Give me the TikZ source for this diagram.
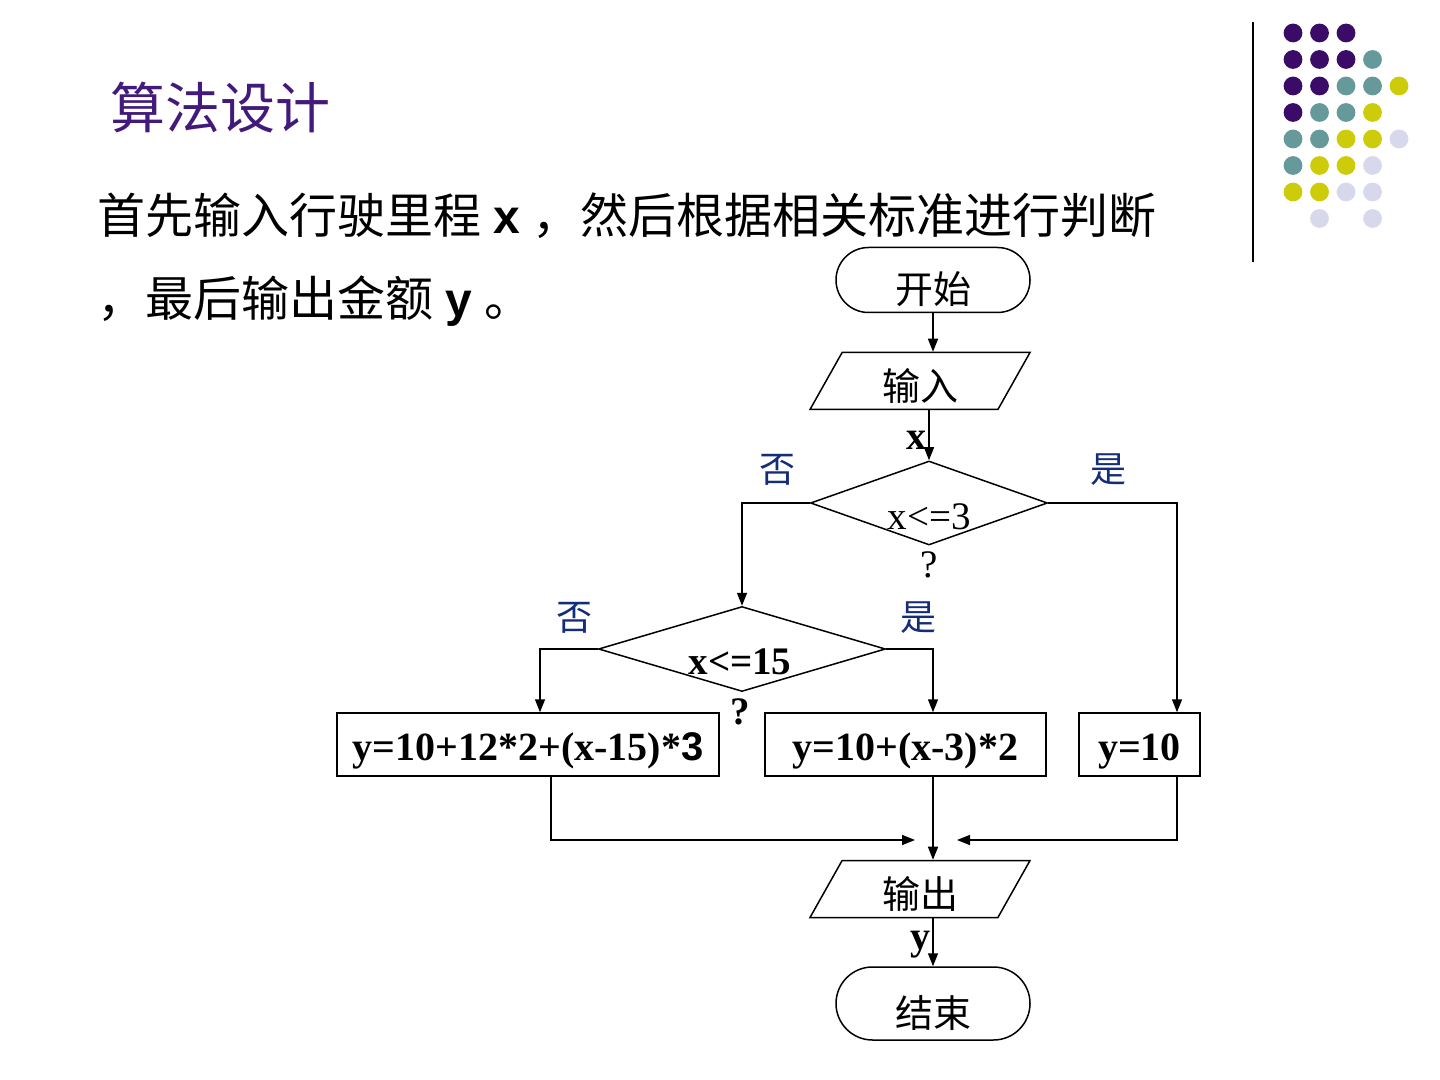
\documentclass[tikz,border=0pt]{standalone}
\usepackage{fontspec}
\setmainfont{Liberation Serif}
\setsansfont{Liberation Sans}
\newfontfamily\cjk{Noto Sans CJK SC}
\usetikzlibrary{shapes.geometric,shapes.misc,arrows.meta}

\definecolor{dotpurple}{RGB}{58,12,104}
\definecolor{dotteal}{RGB}{102,153,153}
\definecolor{dotyellow}{RGB}{204,204,10}
\definecolor{dotlilac}{RGB}{216,216,236}
\definecolor{titlepurple}{RGB}{66,26,124}
\definecolor{answerblue}{RGB}{20,45,120}

\begin{document}
\begin{tikzpicture}[x=0.5pt,y=-0.5pt,line width=0.75pt,
    >={Triangle[length=6.5pt,width=5pt]},
    term/.style={draw,rounded rectangle,minimum width=97pt,inner sep=0pt,text height=26pt,text depth=2.3pt,font=\cjk\fontsize{19}{22}\selectfont},
    inout/.style={draw,trapezium,trapezium left angle=56,trapezium right angle=124,trapezium stretches body,minimum width=110pt,minimum height=28.5pt,inner sep=0pt,text height=21.5pt,text depth=2.3pt,font=\cjk\fontsize{19}{22}\selectfont},
    test/.style={draw,diamond,inner sep=0pt},
    calc/.style={draw,rectangle,minimum height=31.5pt,inner sep=0pt,text height=20pt,text depth=4.5pt,font=\bfseries\fontsize{20}{24}\selectfont},
    answer/.style={text=answerblue,font=\cjk\fontsize{18}{21}\selectfont}]

          \useasboundingbox (0,0) rectangle (1440,1080);

          % slide decoration
          \draw[line width=0.8pt] (1253,22) -- (1253,262);
          \foreach \clist [count=\r] in {{dotpurple,dotpurple,dotpurple},
              {dotpurple,dotpurple,dotpurple,dotteal},
              {dotpurple,dotpurple,dotteal,dotteal,dotyellow},
              {dotpurple,dotteal,dotteal,dotyellow},
              {dotteal,dotteal,dotyellow,dotyellow,dotlilac},
              {dotteal,dotyellow,dotyellow,dotlilac},
              {dotyellow,dotyellow,dotlilac,dotlilac},
              {none,dotlilac,none,dotlilac}}
            \foreach \cc [count=\c] in \clist
              \path[fill=\cc] (1266.5+26.5*\c,6.5+26.5*\r) circle[radius=4.7pt];

          % heading and text
          \begin{scope}[every node/.style={anchor=west,inner sep=0pt}]
            \node (title) at (110,108) {\cjk\fontsize{27.5}{30}\selectfont\color{titlepurple}算法设计};
            \node (line1) at (97,216) {\fontsize{24}{28}\selectfont{\cjk 首先输入行驶里程} {\sffamily\bfseries x} {\cjk ，然后根据相关标准进行判断}};
            \node (line2) at (97,301) {\fontsize{24}{28}\selectfont{\cjk ，最后输出金额} {\sffamily\bfseries y} {\cjk 。}};
          \end{scope}

          % flowchart
          \node[term,minimum height=32.5pt] (1) at (933,280)    {开始};
          \node[inout]                      (2) at (920,381)    {输入};
          \node[test,minimum width=118.5pt,minimum height=42pt] (3) at (929,503) {};
          \node[test,minimum width=143.5pt,minimum height=42.5pt] (4) at (742,649) {};
          \node[calc,minimum width=191pt]   (5) at (528,744.5)  {y=10+12*2+(x-15)*{\sffamily 3}};
          \node[calc,minimum width=140.5pt] (6) at (905.5,744.5) {y=10+(x-3)*2};
          \node[calc,minimum width=60.5pt]  (7) at (1139.5,744.5) {y=10};
          \node[inout]                      (8) at (920,889)    {输出};
          \node[term,minimum height=36.5pt] (9) at (933,1003.5) {结束};

          \coordinate (m1) at (915,840);
          \coordinate (m2) at (957,840);

          \begin{scope}[every node/.style={inner sep=0pt,font=\fontsize{19.5}{22}\selectfont}]
            \node (t3) at (929,517) {x<=3};
            \node (q3) at (929,565) {?};
            \node[font=\bfseries\fontsize{19.5}{22}\selectfont] (t4) at (740,662) {x<=15};
            \node[font=\bfseries\fontsize{19.5}{22}\selectfont] (q4) at (740,712) {?};
          \end{scope}

          \node[answer] (n3) at (777,470)  {否};
          \node[answer] (y3) at (1108,470) {是};
          \node[answer] (n4) at (574,618)  {否};
          \node[answer] (y4) at (918,618)  {是};

          \begin{scope}[every edge/.style={draw,->},every node/.style={font=\bfseries\fontsize{20}{24}\selectfont,inner sep=1pt}]
            \path (1.south) edge (1.south |- 2.north);
            \path (3.north |- 2.south) edge node[left,pos=.6] {x} (3.north);
            \path (3.west) edge[to path={-| (\tikztotarget)}] (4.north);
            \path (3.east) edge[to path={-| (\tikztotarget)}] ([xshift=18.75pt]7.north);
            \path (4.west) edge[to path={-| (\tikztotarget)}] ([xshift=6pt]5.north);
            \path (4.east) edge[to path={-| (\tikztotarget)}] ([xshift=13.75pt]6.north);
            \path ([xshift=11.5pt]5.south) edge[to path={|- (\tikztotarget)}] (m1);
            \path ([xshift=18.75pt]7.south) edge[to path={|- (\tikztotarget)}] (m2);
            \path ([xshift=13.75pt]6.south) edge ([xshift=13.75pt]6.south |- 8.north);
            \path (9.north |- 8.south) edge node[left,pos=.55] {y} (9.north);
          \end{scope}

        \end{tikzpicture}
\end{document}
